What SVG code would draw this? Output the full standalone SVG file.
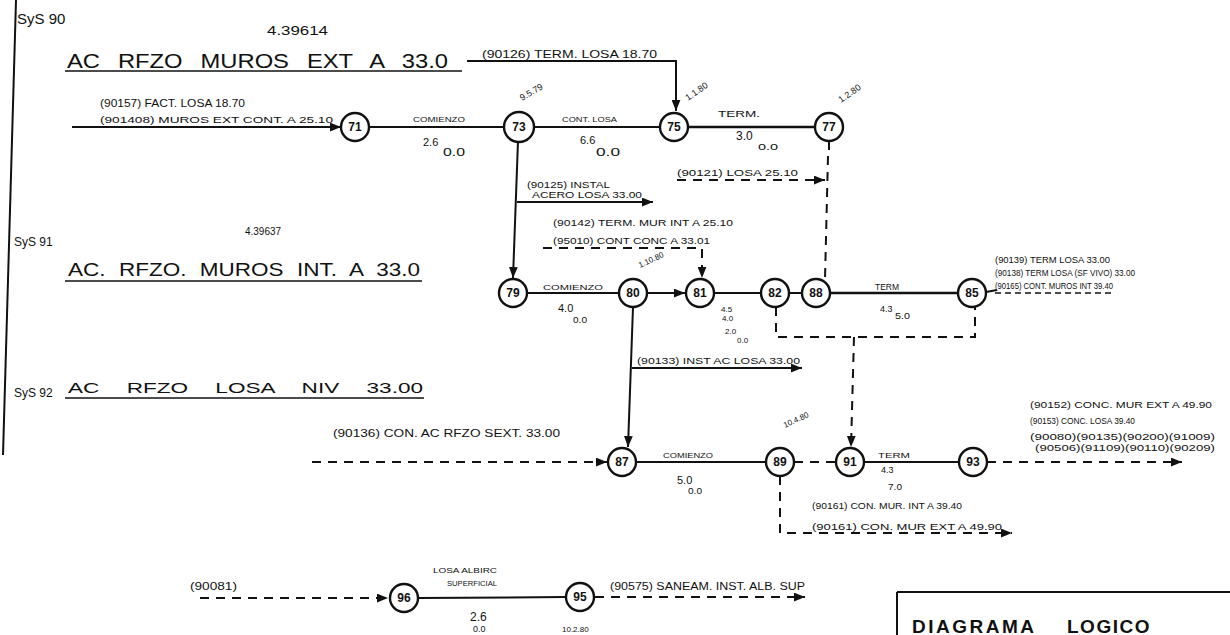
<svg xmlns="http://www.w3.org/2000/svg" width="1230" height="635" viewBox="0 0 1230 635">
<style>
  .bg{fill:#ffffff}
  .ln{fill:none;stroke:#111;stroke-width:2}
  .th{fill:none;stroke:#111;stroke-width:2.6}
  .ds{fill:none;stroke:#111;stroke-width:2;stroke-dasharray:9 7}
  .ul{fill:none;stroke:#111;stroke-width:1.6}
  .nd circle{fill:#fff;stroke:#111;stroke-width:2.4}
  .nd text{font-family:"Liberation Sans",Arial,sans-serif;font-size:12px;font-weight:bold;fill:#111;text-anchor:middle}
  .t{font-family:"Liberation Sans",Arial,sans-serif;fill:#111}
  .s8{font-size:8px}
  .s9{font-size:9px}
  .s10{font-size:10px}
  .s11{font-size:11px}
  .s12{font-size:12px}
  .ttl{font-family:"Liberation Sans",Arial,sans-serif;fill:#111}
</style>
<defs>
  <marker id="arr" viewBox="0 0 10 8" refX="10" refY="4" markerWidth="11" markerHeight="9" markerUnits="userSpaceOnUse" orient="auto">
    <path d="M0,0 L10,4 L0,8 Z" fill="#111"/>
  </marker>
</defs>
<rect class="bg" x="0" y="0" width="1230" height="635"/>

<!-- frame lines -->
<path class="ln" d="M16,0 L3,455"/>
<path class="ln" d="M897,592 L1230,592 M897,592 L897,635"/>

<!-- connectors -->
<g id="connectors">
  <path class="ln" d="M72,127 L341,127" marker-end="url(#arr)"/>
  <path class="ln" d="M369,127 L503,127"/>
  <path class="ln" d="M533,127 L659,127"/>
  <path class="th" d="M688,127 L815,127"/>
  <path class="ln" d="M467,61 L676,61 L676,111" marker-end="url(#arr)"/>
  <path class="ln" d="M829,141 L829,150"/>
  <path class="ds" d="M828,156 L825,279"/>
  <path class="ds" d="M677,180 L825,180" marker-end="url(#arr)"/>
  <path class="ln" d="M518,141 L513,278" marker-end="url(#arr)"/>
  <path class="ln" d="M517,202 L653,202" marker-end="url(#arr)"/>
  <path class="ds" d="M543,248 L702,248 L702,278" marker-end="url(#arr)"/>
  <path class="ln" d="M527,293 L619,293"/>
  <path class="ln" d="M647,293 L685,293" marker-end="url(#arr)"/>
  <path class="ln" d="M714,293 L761,293"/>
  <path class="ln" d="M789,293 L802,293"/>
  <path class="th" d="M830,293 L958,293"/>
  <path class="ln" d="M986,292 L997,290"/>
  <path class="ds" d="M776,307 L776,337 L975,337 L975,307"/>
  <path class="ds" d="M854,337 L851,447" marker-end="url(#arr)"/>
  <path class="ln" d="M633,307 L628,447" marker-end="url(#arr)"/>
  <path class="ln" d="M632,368 L802,368" marker-end="url(#arr)"/>
  <path class="ds" d="M312,462 L607,462" marker-end="url(#arr)"/>
  <path class="ln" d="M636,462 L766,462"/>
  <path class="ds" d="M794,462 L836,462"/>
  <path class="ln" d="M864,462 L959,462"/>
  <path class="ds" d="M987,462 L1182,462" marker-end="url(#arr)"/>
  <path class="ds" d="M780,476 L780,533 L1012,533" marker-end="url(#arr)"/>
  <path class="ds" d="M200,598 L388,598" marker-end="url(#arr)"/>
  <path class="ln" d="M418,598 L566,597"/>
  <path class="ds" d="M595,597 L805,597" marker-end="url(#arr)"/>
</g>

<!-- nodes -->
<g id="n71" class="nd"><circle cx="355" cy="127" r="14"/><text x="355" y="131">71</text></g>
<g id="n73" class="nd"><circle cx="519" cy="127" r="15"/><text x="519" y="131">73</text></g>
<g id="n75" class="nd"><circle cx="674" cy="127" r="14"/><text x="674" y="131">75</text></g>
<g id="n77" class="nd"><circle cx="829" cy="127" r="14"/><text x="829" y="131">77</text></g>
<g id="n79" class="nd"><circle cx="513" cy="293" r="14"/><text x="513" y="297">79</text></g>
<g id="n80" class="nd"><circle cx="633" cy="293" r="14"/><text x="633" y="297">80</text></g>
<g id="n81" class="nd"><circle cx="700" cy="293" r="14"/><text x="700" y="297">81</text></g>
<g id="n82" class="nd"><circle cx="775" cy="293" r="14"/><text x="775" y="297">82</text></g>
<g id="n88" class="nd"><circle cx="816" cy="293" r="14"/><text x="816" y="297">88</text></g>
<g id="n85" class="nd"><circle cx="972" cy="293" r="14"/><text x="972" y="297">85</text></g>
<g id="n87" class="nd"><circle cx="622" cy="462" r="14"/><text x="622" y="466">87</text></g>
<g id="n89" class="nd"><circle cx="780" cy="462" r="14"/><text x="780" y="466">89</text></g>
<g id="n91" class="nd"><circle cx="850" cy="462" r="14"/><text x="850" y="466">91</text></g>
<g id="n93" class="nd"><circle cx="973" cy="462" r="14"/><text x="973" y="466">93</text></g>
<g id="n96" class="nd"><circle cx="404" cy="598" r="14"/><text x="404" y="602">96</text></g>
<g id="n95" class="nd"><circle cx="580" cy="597" r="14"/><text x="580" y="601">95</text></g>

<!-- labels -->
<g id="labels">
  <text class="t" x="17" y="24" font-size="15">SyS 90</text>
  <text class="t s12" x="267" y="35" textLength="61" lengthAdjust="spacingAndGlyphs">4.39614</text>
  <text class="ttl" x="67" y="68" font-size="21" word-spacing="10" textLength="381" lengthAdjust="spacingAndGlyphs">AC RFZO MUROS EXT A 33.0</text>
  <path class="ul" d="M65,71 L462,71"/>
  <text class="t s10" x="100" y="107" textLength="145" lengthAdjust="spacingAndGlyphs">(90157)  FACT. LOSA  18.70</text>
  <text class="t s9" x="100" y="123" textLength="233" lengthAdjust="spacingAndGlyphs">(901408) MUROS EXT CONT. A 25.10</text>
  <text class="t s10" x="482" y="58" textLength="175" lengthAdjust="spacingAndGlyphs">(90126) TERM. LOSA  18.70</text>

  <text class="t s8" x="413" y="122" textLength="52" lengthAdjust="spacingAndGlyphs">COMIENZO</text>
  <text class="t s11" x="423" y="146">2.6</text>
  <text class="t s10" x="443" y="156" textLength="22" lengthAdjust="spacingAndGlyphs">0.0</text>
  <text class="t s9" x="522" y="101" transform="rotate(-30 522 101)">9.5.79</text>
  <text class="t s8" x="562" y="122" textLength="55" lengthAdjust="spacingAndGlyphs">CONT. LOSA</text>
  <text class="t s11" x="580" y="144">6.6</text>
  <text class="t s10" x="596" y="156" textLength="24" lengthAdjust="spacingAndGlyphs">0.0</text>
  <text class="t s9" x="688" y="101" transform="rotate(-35 688 101)">1.1.80</text>
  <text class="t s9" x="718" y="117" textLength="42" lengthAdjust="spacingAndGlyphs">TERM.</text>
  <text class="t s12" x="736" y="140">3.0</text>
  <text class="t s9" x="758" y="150" textLength="20" lengthAdjust="spacingAndGlyphs">0.0</text>
  <text class="t s9" x="841" y="103" transform="rotate(-35 841 103)">1.2.80</text>
  <text class="t s9" x="677" y="176" textLength="121" lengthAdjust="spacingAndGlyphs">(90121)  LOSA  25.10</text>

  <text class="t" x="14" y="246" font-size="12">SyS 91</text>
  <text class="t s11" x="245" y="235" textLength="36" lengthAdjust="spacingAndGlyphs">4.39637</text>
  <text class="ttl" x="68" y="276" font-size="19" word-spacing="6" textLength="352" lengthAdjust="spacingAndGlyphs">AC. RFZO. MUROS INT. A 33.0</text>
  <path class="ul" d="M65,281 L422,281"/>
  <text class="t s9" x="527" y="188" textLength="83" lengthAdjust="spacingAndGlyphs">(90125)  INSTAL</text>
  <text class="t s9" x="532" y="198" textLength="110" lengthAdjust="spacingAndGlyphs">ACERO LOSA 33.00</text>
  <text class="t s9" x="553" y="226" textLength="180" lengthAdjust="spacingAndGlyphs">(90142) TERM. MUR INT A 25.10</text>
  <text class="t s9" x="553" y="244" textLength="157" lengthAdjust="spacingAndGlyphs">(95010) CONT CONC A 33.01</text>
  <text class="t s8" x="640" y="268" transform="rotate(-25 640 268)">1.10.80</text>
  <text class="t s8" x="543" y="290" textLength="60" lengthAdjust="spacingAndGlyphs">COMIENZO</text>
  <text class="t s11" x="558" y="312">4.0</text>
  <text class="t s9" x="573" y="323" textLength="14" lengthAdjust="spacingAndGlyphs">0.0</text>
  <text class="t s8" x="721" y="312">4.5</text>
  <text class="t s8" x="722" y="321">4.0</text>
  <text class="t s8" x="725" y="334">2.0</text>
  <text class="t s8" x="737" y="343">0.0</text>
  <text class="t s9" x="875" y="290" textLength="24" lengthAdjust="spacingAndGlyphs">TERM</text>
  <text class="t s9" x="880" y="312">4.3</text>
  <text class="t s9" x="895" y="319" textLength="15" lengthAdjust="spacingAndGlyphs">5.0</text>
  <text class="t s9" x="995" y="263" textLength="115" lengthAdjust="spacingAndGlyphs">(90139) TERM LOSA 33.00</text>
  <text class="t s9" x="995" y="276" textLength="140" lengthAdjust="spacingAndGlyphs">(90138) TERM LOSA (SF VIVO) 33.00</text>
  <text class="t s9" x="995" y="289" textLength="118" lengthAdjust="spacingAndGlyphs">(90165) CONT. MUROS INT 39.40</text>
  <path class="ds" d="M995,293 L1113,293" style="stroke-width:1.4;stroke-dasharray:6 4"/>

  <text class="t" x="14" y="397" font-size="12">SyS 92</text>
  <text class="ttl" x="68" y="393" font-size="15" word-spacing="14" textLength="355" lengthAdjust="spacingAndGlyphs">AC RFZO LOSA NIV 33.00</text>
  <path class="ul" d="M65,398 L424,398"/>
  <text class="t s9" x="637" y="364" textLength="163" lengthAdjust="spacingAndGlyphs">(90133) INST AC LOSA 33.00</text>
  <text class="t s8" x="785" y="428" transform="rotate(-25 785 428)">10.4.80</text>
  <text class="t s10" x="333" y="437" textLength="227" lengthAdjust="spacingAndGlyphs">(90136) CON. AC RFZO SEXT. 33.00</text>
  <text class="t s8" x="663" y="458" textLength="50" lengthAdjust="spacingAndGlyphs">COMIENZO</text>
  <text class="t s11" x="677" y="484">5.0</text>
  <text class="t s9" x="688" y="494" textLength="14" lengthAdjust="spacingAndGlyphs">0.0</text>
  <text class="t s8" x="878" y="458" textLength="32" lengthAdjust="spacingAndGlyphs">TERM</text>
  <text class="t s9" x="881" y="473">4.3</text>
  <text class="t s9" x="888" y="490" textLength="14" lengthAdjust="spacingAndGlyphs">7.0</text>
  <text class="t s9" x="1030" y="408" textLength="182" lengthAdjust="spacingAndGlyphs">(90152) CONC. MUR EXT A 49.90</text>
  <text class="t s9" x="1030" y="424" textLength="105" lengthAdjust="spacingAndGlyphs">(90153) CONC. LOSA 39.40</text>
  <text class="t s9" x="1030" y="440" textLength="185" lengthAdjust="spacingAndGlyphs">(90080)(90135)(90200)(91009)</text>
  <text class="t s9" x="1035" y="451" textLength="180" lengthAdjust="spacingAndGlyphs">(90506)(91109)(90110)(90209)</text>
  <text class="t s9" x="812" y="509" textLength="150" lengthAdjust="spacingAndGlyphs">(90161) CON. MUR. INT A 39.40</text>
  <text class="t s9" x="812" y="530" textLength="190" lengthAdjust="spacingAndGlyphs">(90161) CON. MUR EXT A 49.90</text>

  <text class="t s10" x="190" y="590" textLength="47" lengthAdjust="spacingAndGlyphs">(90081)</text>
  <text class="t s8" x="433" y="573" textLength="64" lengthAdjust="spacingAndGlyphs">LOSA ALBIRC</text>
  <text class="t s8" x="447" y="586" textLength="50" lengthAdjust="spacingAndGlyphs">SUPERFICIAL</text>
  <text class="t s12" x="470" y="621">2.6</text>
  <text class="t s9" x="473" y="632">0.0</text>
  <text class="t s8" x="562" y="632">10.2.80</text>
  <text class="t s10" x="610" y="590" textLength="195" lengthAdjust="spacingAndGlyphs">(90575) SANEAM. INST. ALB. SUP</text>

  <text class="ttl" x="912" y="633" font-size="19" font-weight="bold" letter-spacing="2.5">DIAGRAMA</text>
  <text class="ttl" x="1067" y="633" font-size="19" font-weight="bold" letter-spacing="1.5">LOGICO</text>
</g>
</svg>
